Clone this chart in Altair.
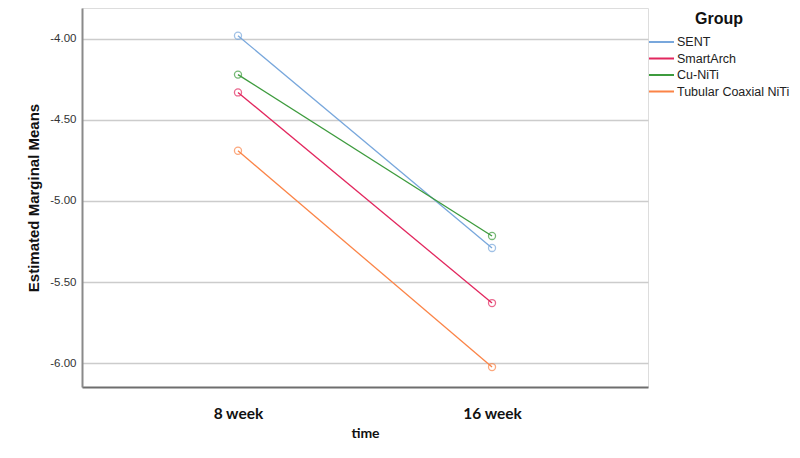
import altair as alt
import pandas as pd

groups = ["SENT", "SmartArch", "Cu-NiTi", "Tubular Coaxial NiTi"]
times = ["8 week", "16 week"]
week8 = [-3.98, -4.33, -4.22, -4.69]
week16 = [-5.29, -5.63, -5.216, -6.025]
colors = ["#78a7dc", "#e2275e", "#3d9b3d", "#fb8447"]

rows = []
for g, a, b in zip(groups, week8, week16):
    rows.append({"Group": g, "time": times[0], "value": a})
    rows.append({"Group": g, "time": times[1], "value": b})
df = pd.DataFrame(rows)

x = alt.X("time:N", sort=times, title="time",
          scale=alt.Scale(type="point", padding=0.614),
          axis=alt.Axis(labelAngle=0, labelFont="Lato", labelFontWeight="bold",
                        labelFontSize=15.5, labelColor="#111111", labelPadding=19,
                        titleFont="Lato", titleFontWeight="bold", titleFontSize=14,
                        titleColor="#111111", titlePadding=5, ticks=False,
                        domainColor="#6e6e6e", domainWidth=2, grid=False))
y = alt.Y("value:Q", title="Estimated Marginal Means",
          scale=alt.Scale(domain=[-6.148, -3.809], nice=False, zero=False),
          axis=alt.Axis(values=[-4.0, -4.5, -5.0, -5.5, -6.0],
                        labelExpr="replace(format(datum.value, '.2f'), '\u2212', '-')",
                        labelFont="Liberation Sans", labelFontSize=11.5,
                        labelColor="#333333", labelPadding=6, ticks=False,
                        domainColor="#8a8a8a", domainWidth=2,
                        grid=True, gridColor="#cccccc", gridWidth=1.5,
                        titleFont="Liberation Sans", titleFontWeight="bold",
                        titleFontSize=15, titleColor="#111111", titlePadding=8))
color = alt.Color("Group:N", scale=alt.Scale(domain=groups, range=colors),
                  legend=alt.Legend(title="Group", orient="none", legendX=566, legendY=3,
                                    symbolType="stroke", symbolSize=625, symbolStrokeWidth=2,
                                    clipHeight=16, rowPadding=0.5, labelLimit=300,
                                    labelFont="Liberation Sans", labelFontSize=12.5,
                                    labelColor="#222222", titleFont="Liberation Sans",
                                    titleFontSize=16, titleFontWeight="bold",
                                    titleColor="#111111", titleAnchor="middle",
                                    titlePadding=7, labelOffset=2))

lines = alt.Chart(df).mark_line(strokeWidth=1.3).encode(x=x, y=y, color=color)
points = alt.Chart(df).mark_point(filled=False, size=50, strokeWidth=1.3).encode(
    x=x, y=y, color=alt.Color("Group:N", scale=alt.Scale(domain=groups, range=colors), legend=None))

chart = (lines + points).properties(
    width=566, height=379,
    autosize=alt.AutoSizeParams(type="none"),
    padding={"left": 74, "top": 0, "right": 144, "bottom": 63},
).configure_view(stroke=None).configure(background="white")

chart.save("out.html", embed_options={"renderer": "svg", "actions": False})
